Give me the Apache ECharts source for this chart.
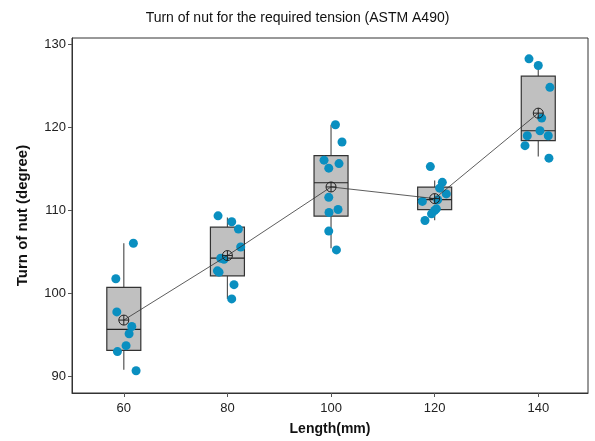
<!DOCTYPE html>
<html>
<head>
<meta charset="utf-8">
<script src="https://cdn.jsdelivr.net/npm/echarts@6/dist/echarts.min.js"></script>
<style>
  html, body { margin: 0; padding: 0; background: #fff; }
  #chart { width: 595px; height: 441px; }
</style>
</head>
<body>
<div id="chart"></div>
<script>
// bolt lengths (mm)
const lengths = [60, 80, 100, 120, 140];
const xTicks = [60, 80, 100, 120, 140];
const yTicks = [90, 100, 110, 120, 130];

// individual measurements, turn of nut (degree)
const values60 = [106.05, 101.77, 97.78, 96.02, 95.15, 93.71, 92.99, 90.68];
const values80 = [109.36, 108.65, 107.76, 105.6, 104.25, 104.13, 102.73, 102.57, 101.06, 99.34];
const values100 = [120.34, 118.26, 116.07, 115.66, 115.11, 111.59, 110.12, 109.76, 107.52, 105.25];
const values120 = [115.3, 113.4, 112.7, 112.0, 111.3, 111.1, 110.2, 110.0, 109.6, 108.8];
const values140 = [128.29, 127.49, 124.85, 121.14, 119.62, 119.02, 119.02, 117.82, 116.31];

// horizontal jitter of the points (mm)
const jitter60 = [1.85, -1.54, -1.35, 1.54, 1.02, 0.44, -1.23, 2.37];
const jitter80 = [-1.81, 0.83, 2.12, 2.56, -1.29, -0.66, -1.93, -1.62, 1.27, 0.83];
const jitter100 = [0.85, 2.12, -1.35, 1.54, -0.44, -0.44, 1.35, -0.39, -0.44, 1.04];
const jitter120 = [-0.83, 1.48, 0.96, 2.25, 0.58, -2.37, 0.33, 0.0, -0.6, -1.87];
const jitter140 = [-1.79, 0.0, 2.25, 0.66, 0.33, 1.93, -2.12, -2.56, 2.06];

// box statistics
const whiskerLow = [90.8, 99.34, 105.45, 108.84, 116.5];
const q1 = [93.15, 102.13, 109.32, 110.12, 118.42];
const median = [95.66, 104.25, 113.35, 111.32, 119.62];
const q3 = [100.74, 108.0, 116.62, 112.83, 126.2];
const whiskerHigh = [106.05, 109.16, 120.34, 113.63, 127.49];
const means = [96.79, 104.57, 112.84, 111.44, 121.74];

const allValues = [values60, values80, values100, values120, values140];
const allJitter = [jitter60, jitter80, jitter100, jitter120, jitter140];

const points = [];
allValues.forEach((vals, g) => {
  vals.forEach((v, i) => points.push([lengths[g] + allJitter[g][i], v]));
});

const boxData = lengths.map((x, i) => [x, whiskerLow[i], q1[i], median[i], q3[i], whiskerHigh[i]]);
const meanData = lengths.map((x, i) => [x, means[i]]);

const BOX_HALF = 17;

function renderBox(params, api) {
  const x = api.value(0);
  const low = api.coord([x, api.value(1)]);
  const b1 = api.coord([x, api.value(2)]);
  const md = api.coord([x, api.value(3)]);
  const b3 = api.coord([x, api.value(4)]);
  const high = api.coord([x, api.value(5)]);
  const cx = low[0];
  const lineStyle = { stroke: '#555', lineWidth: 1.2 };
  return {
    type: 'group',
    children: [
      { type: 'line', shape: { x1: cx, y1: high[1], x2: cx, y2: b3[1] }, style: lineStyle },
      { type: 'line', shape: { x1: cx, y1: b1[1], x2: cx, y2: low[1] }, style: lineStyle },
      {
        type: 'rect',
        shape: { x: cx - BOX_HALF, y: b3[1], width: BOX_HALF * 2, height: b1[1] - b3[1] },
        style: { fill: '#c0c0c0', stroke: '#333', lineWidth: 1.2 }
      },
      { type: 'line', shape: { x1: cx - BOX_HALF, y1: md[1], x2: cx + BOX_HALF, y2: md[1] }, style: { stroke: '#222', lineWidth: 1.2 } }
    ]
  };
}

function renderMean(params, api) {
  const p = api.coord([api.value(0), api.value(1)]);
  const r = 5;
  const st = { stroke: '#222', lineWidth: 1 };
  return {
    type: 'group',
    children: [
      { type: 'circle', shape: { cx: p[0], cy: p[1], r: r }, style: { fill: 'rgba(255,255,255,0)', stroke: '#222', lineWidth: 1 } },
      { type: 'line', shape: { x1: p[0] - r, y1: p[1], x2: p[0] + r, y2: p[1] }, style: st },
      { type: 'line', shape: { x1: p[0], y1: p[1] - r, x2: p[0], y2: p[1] + r }, style: st }
    ]
  };
}

const chart = echarts.init(document.getElementById('chart'), null, { renderer: 'canvas' });

const option = {
  animation: false,
  backgroundColor: '#fff',
  textStyle: { fontFamily: 'Liberation Sans, Arial, sans-serif' },
  title: {
    text: 'Turn of nut for the required tension (ASTM A490)',
    left: 'center',
    top: 6,
    textStyle: { fontSize: 14, fontWeight: 'normal', color: '#111', fontFamily: 'Liberation Sans' }
  },
  grid: {
    left: 72, right: 7, top: 38, bottom: 45,
    show: true, borderColor: '#333', borderWidth: 1
  },
  xAxis: {
    type: 'value',
    min: 50,
    max: 149.6,
    name: 'Length(mm)',
    nameLocation: 'middle',
    nameGap: 29,
    nameTextStyle: { fontSize: 14, fontWeight: 'bold', color: '#111' },
    axisLine: { show: true, lineStyle: { color: '#333' } },
    axisTick: { show: true, length: 4, inside: false, customValues: xTicks, lineStyle: { color: '#555' } },
    axisLabel: { customValues: xTicks, fontSize: 13, color: '#222', margin: 9 },
    splitLine: { show: false }
  },
  yAxis: {
    type: 'value',
    min: 88,
    max: 130.8,
    name: 'Turn of nut (degree)',
    nameLocation: 'middle',
    nameGap: 42,
    nameTextStyle: { fontSize: 15, fontWeight: 'bold', color: '#111' },
    axisLine: { show: true, lineStyle: { color: '#333' } },
    axisTick: { show: true, length: 4, customValues: yTicks, lineStyle: { color: '#555' } },
    axisLabel: { customValues: yTicks, fontSize: 13, color: '#222', margin: 6 },
    splitLine: { show: false }
  },
  series: [
    {
      type: 'custom',
      name: 'box',
      renderItem: renderBox,
      data: boxData,
      z: 1
    },
    {
      type: 'scatter',
      name: 'points',
      data: points,
      symbol: 'circle',
      symbolSize: 9,
      itemStyle: { color: '#0a8fc0', opacity: 1 },
      z: 2
    },
    {
      type: 'line',
      name: 'mean line',
      data: meanData,
      showSymbol: false,
      lineStyle: { color: '#333', width: 0.8 },
      z: 3
    },
    {
      type: 'custom',
      name: 'mean',
      renderItem: renderMean,
      data: meanData,
      z: 4
    }
  ]
};

chart.setOption(option);
</script>
</body>
</html>
